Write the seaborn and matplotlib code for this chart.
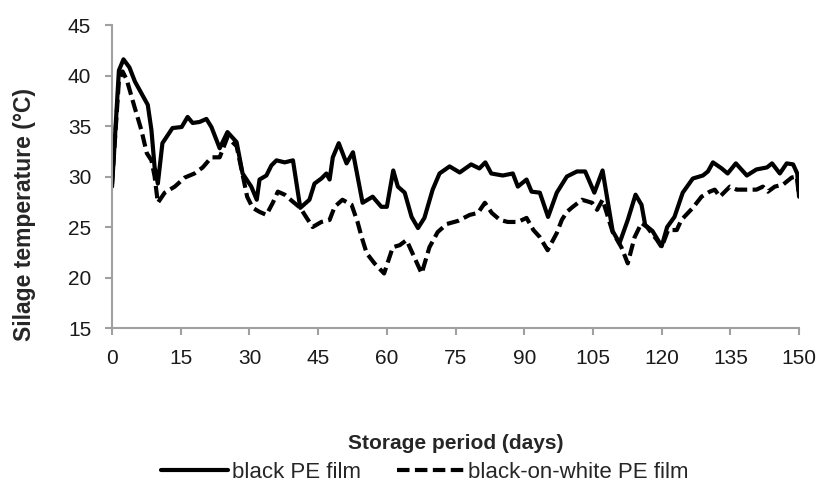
# silage_temperature.py
# Silage temperature under two PE films over the storage period

import matplotlib
matplotlib.use("Agg")
import matplotlib.pyplot as plt
import pandas as pd
import seaborn as sns

# ----------------------------
# Data
# ----------------------------
black_days = [0, 1.5, 2.5, 3.8, 5, 7.8, 8.6, 9.3, 10, 11, 13.2, 15.2, 16.5, 17.6,
              19.1, 20.6, 21.7, 23.5, 25.2, 27.2, 28.5, 30.4, 31.6, 32.2, 33.7,
              34.8, 35.9, 37.7, 39.5, 41.1, 43.1, 44.2, 45.7, 46.8, 47.5, 48.2,
              49.5, 51.2, 52.6, 54.7, 56.9, 58.8, 60, 61.4, 62.4, 63.9, 65.4,
              66.8, 68.2, 70, 71.5, 73.7, 75.9, 78.4, 80.2, 81.5, 82.8, 85.3,
              87.5, 88.6, 90.5, 91.6, 93.4, 95.2, 97.1, 99.3, 101.5, 103.3, 105.3,
              107.1, 109.3, 110.8, 112.6, 114.3, 115.6, 116.4, 118, 120, 121.2,
              122.8, 124.6, 126.8, 129, 130.1, 131.2, 133.1, 134.4, 136.2, 138.6,
              140.7, 143, 144.1, 145.8, 147.3, 148.7, 149.6, 150]
black_temp = [29.0, 40.5, 41.6, 40.8, 39.4, 37.1, 34.6, 30.9, 29.3, 33.3, 34.8, 34.9,
              35.9, 35.3, 35.4, 35.7, 34.9, 32.8, 34.4, 33.4, 30.3, 29.0, 27.7, 29.7,
              30.1, 31.1, 31.6, 31.4, 31.6, 26.9, 27.7, 29.3, 29.8, 30.3, 29.7, 31.9,
              33.3, 31.3, 32.4, 27.4, 28.0, 27.0, 27.0, 30.6, 29.0, 28.4, 26.0, 24.9,
              25.9, 28.7, 30.3, 31.0, 30.4, 31.2, 30.8, 31.4, 30.3, 30.1, 30.3, 29.0,
              29.7, 28.5, 28.4, 26.0, 28.4, 30.0, 30.5, 30.5, 28.4, 30.6, 24.6, 23.4,
              25.7, 28.2, 27.2, 25.2, 24.6, 23.1, 25.0, 26.0, 28.4, 29.8, 30.1, 30.5,
              31.4, 30.8, 30.3, 31.3, 30.1, 30.7, 30.9, 31.3, 30.3, 31.3, 31.2, 30.3,
              28.0]

white_days = [0, 1.5, 2.3, 3.2, 4.9, 6.4, 7.6, 8.6, 9.3, 10, 11.5, 13.7, 15.9, 18,
              19.8, 21.7, 23.5, 25.2, 27.2, 28.5, 29.5, 30.7, 32.2, 33.7, 35.1,
              36.2, 37.7, 39.5, 41.1, 42.5, 43.8, 45.7, 47.5, 48.6, 50.3, 52.3,
              53.6, 54.5, 55.6, 57.3, 59.4, 61.3, 62.8, 64.3, 66.1, 67.6, 69.3,
              71.1, 73.1, 75.5, 78.1, 79.9, 81.4, 82.9, 84.7, 86.4, 88.6, 90.5, 92,
              93.4, 95.1, 97.1, 98.2, 99.3, 100.6, 102.6, 104.8, 105.9, 107.1,
              109.3, 111.2, 112.6, 114.1, 115.6, 116.8, 119, 120, 121.4, 123.3,
              124.3, 126.8, 128.7, 130.5, 131.6, 132.7, 134.9, 136.4, 138.6, 140.7,
              142.1, 143.2, 144.7, 146.5, 148.4, 149.5, 150]
white_temp = [29.3, 39.5, 40.4, 39.6, 36.9, 34.6, 32.3, 31.6, 30.0, 27.4, 28.4, 29.0,
              29.9, 30.3, 30.9, 31.9, 31.9, 33.9, 33.0, 30.2, 28.0, 26.9, 26.5, 26.2,
              27.4, 28.5, 28.2, 27.5, 26.9, 25.9, 25.0, 25.5, 25.7, 27.0, 27.7, 27.2,
              25.5, 24.0, 22.4, 21.4, 20.4, 23.0, 23.2, 23.7, 21.9, 20.4, 23.0, 24.5,
              25.3, 25.6, 26.2, 26.4, 27.4, 26.4, 25.7, 25.5, 25.5, 25.9, 24.7, 24.0,
              22.7, 24.4, 25.7, 26.5, 27.0, 27.7, 27.4, 26.7, 27.7, 24.5, 23.0, 21.4,
              24.0, 25.4, 25.0, 23.7, 23.0, 24.7, 24.7, 25.7, 26.9, 28.0, 28.5, 28.7,
              28.0, 29.0, 28.7, 28.7, 28.7, 29.0, 28.5, 29.0, 29.2, 29.9, 30.0, 28.0]

series_labels = ["black PE film", "black-on-white PE film"]
x_ticks = list(range(0, 151, 15))
y_ticks = list(range(15, 46, 5))

# ----------------------------
# Plot
# ----------------------------
sns.set_style("white")
plt.rcParams["font.family"] = ["Liberation Sans", "DejaVu Sans"]

black_df = pd.DataFrame({"day": black_days, "temp": black_temp})
white_df = pd.DataFrame({"day": white_days, "temp": white_temp})

fig = plt.figure(figsize=(8.22, 4.83), dpi=100)
ax = fig.add_axes([0.1363, 0.3209, 0.8358, 0.6273])

sns.lineplot(data=black_df, x="day", y="temp", ax=ax, color="black",
             linewidth=3, estimator=None, sort=False, label=series_labels[0])
sns.lineplot(data=white_df, x="day", y="temp", ax=ax, color="black",
             linewidth=3, estimator=None, sort=False, label=series_labels[1],
             linestyle=(0, (3.0, 1.3)))

ax.set_xlim(0, 150)
ax.set_ylim(15, 45)
ax.set_xticks(x_ticks)
ax.set_yticks(y_ticks)

grey = "#a0a0a0"
for side in ["top", "right"]:
    ax.spines[side].set_visible(False)
for side in ["left", "bottom"]:
    ax.spines[side].set_color(grey)
    ax.spines[side].set_linewidth(1.5)
ax.tick_params(axis="both", direction="out", length=5, width=1.5, color=grey,
               labelsize=15, labelcolor="#1a1a1a", pad=10)
ax.tick_params(axis="both", which="both", bottom=True, left=True)

ax.set_xlabel("Storage period (days)", fontsize=15, fontweight="bold")
ax.xaxis.label.set_va("center")
ax.xaxis.set_label_coords(0.5, -0.38)
ax.set_ylabel("Silage temperature (°C)", fontsize=16.5, fontweight="bold")
ax.yaxis.label.set_va("center")
ax.yaxis.set_label_coords(-0.127, 0.373)

ax.legend(loc="center", bbox_to_anchor=(425 / 822, 1 - 472 / 483),
          bbox_transform=fig.transFigure, ncol=2, frameon=False,
          handlelength=3.0, handletextpad=0.2, columnspacing=1.6, fontsize=16,
          borderpad=0.2)

fig.savefig("out.png", dpi=100)
